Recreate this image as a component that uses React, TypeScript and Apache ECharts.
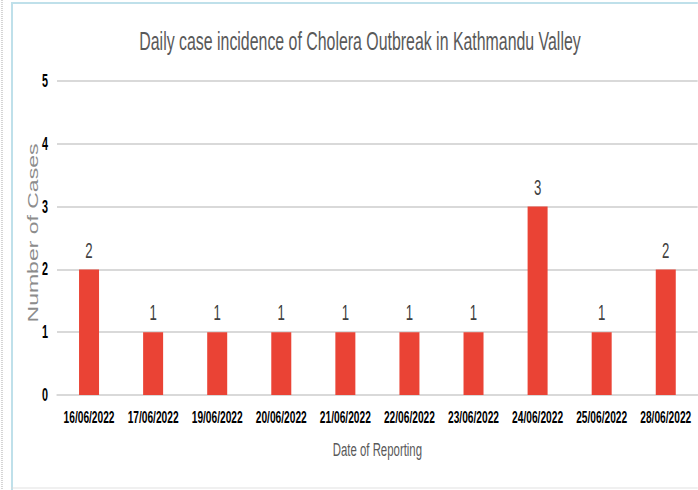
import React, { useEffect, useRef } from "react";
import * as echarts from "echarts";

const categories = [
  "16/06/2022", "17/06/2022", "19/06/2022", "20/06/2022", "21/06/2022",
  "22/06/2022", "23/06/2022", "24/06/2022", "25/06/2022", "28/06/2022",
];
const cases = [2, 1, 1, 1, 1, 1, 1, 3, 1, 2];
const titleText = "Daily case incidence of Cholera Outbreak in Kathmandu Valley";
const xName = "Date of Reporting";
const yName = "Number of Cases";

const S = 0.6; // horizontal squeeze of the whole picture
const W = 698 / S;
const H = 490;
const FONT = "'Liberation Sans', Arial, sans-serif";

export default function App() {
  const ref = useRef<HTMLDivElement>(null);
  useEffect(() => {
    if (!ref.current) return;
    const chart = echarts.init(ref.current, null, { renderer: "svg" });
    chart.setOption({
      animation: false,
      backgroundColor: "#ffffff",
      title: {
        text: titleText,
        left: 357 / S,
        textAlign: "center",
        top: 22,
        textStyle: { fontFamily: FONT, fontSize: 26.5, fontWeight: "normal", color: "#595959" },
      },
      grid: { left: 57 / S, right: -5, top: 81, bottom: 95, containLabel: false },
      xAxis: {
        type: "category",
        data: categories,
        name: xName,
        nameLocation: "middle",
        nameGap: 45,
        nameTextStyle: { fontFamily: FONT, fontSize: 19, color: "#595959" },
        axisLine: { show: true, lineStyle: { color: "#d9d9d9", width: 2 } },
        axisTick: { show: false },
        axisLabel: { fontFamily: FONT, fontSize: 17, fontWeight: "bold", color: "#000000", margin: 13, interval: 0 },
      },
      yAxis: {
        type: "value",
        min: 0,
        max: 5,
        interval: 1,
        axisLine: { show: false },
        axisTick: { show: false },
        axisLabel: { fontFamily: FONT, fontSize: 18, fontWeight: "bold", color: "#000000", margin: 15 },
        splitLine: { lineStyle: { color: "#d9d9d9", width: 2 } },
      },
      series: [
        {
          type: "bar",
          data: cases,
          barWidth: 20 / S,
          itemStyle: { color: "#ea4335" },
          label: {
            show: true,
            position: "top",
            distance: 8,
            fontFamily: FONT,
            fontSize: 22,
            color: "#404040",
          },
        },
      ],
      graphic: [
        { type: "line", shape: { x1: 2 / S, y1: 0, x2: 2 / S, y2: H }, style: { stroke: "#aaaaaa", lineWidth: 1 / S, lineDash: [1, 1] } },
        { type: "rect", shape: { x: 11 / S, y: 2, width: 2 / S, height: H - 2 }, style: { fill: "#bfe0ea" } },
        { type: "rect", shape: { x: 11 / S, y: 2, width: W, height: 2 }, style: { fill: "#bfe0ea" } },
        { type: "line", shape: { x1: 11 / S, y1: 488, x2: W, y2: 488 }, style: { stroke: "#d9d9d9", lineWidth: 1 } },
        {
          type: "text",
          x: 33 / S,
          y: 233,
          rotation: Math.PI / 2,
          style: {
            text: yName,
            font: "23px " + FONT,
            fill: "#8c8c8c",
            align: "center",
            verticalAlign: "middle",
          },
        },
      ],
    });
    return () => chart.dispose();
  }, []);
  return (
    <div style={{ position: "fixed", left: 0, top: 0, width: 698, height: H, overflow: "hidden", background: "#fff" }}>
      <div
        ref={ref}
        style={{ width: W, height: H, transform: `scaleX(${S})`, transformOrigin: "0 0" }}
      />
    </div>
  );
}
